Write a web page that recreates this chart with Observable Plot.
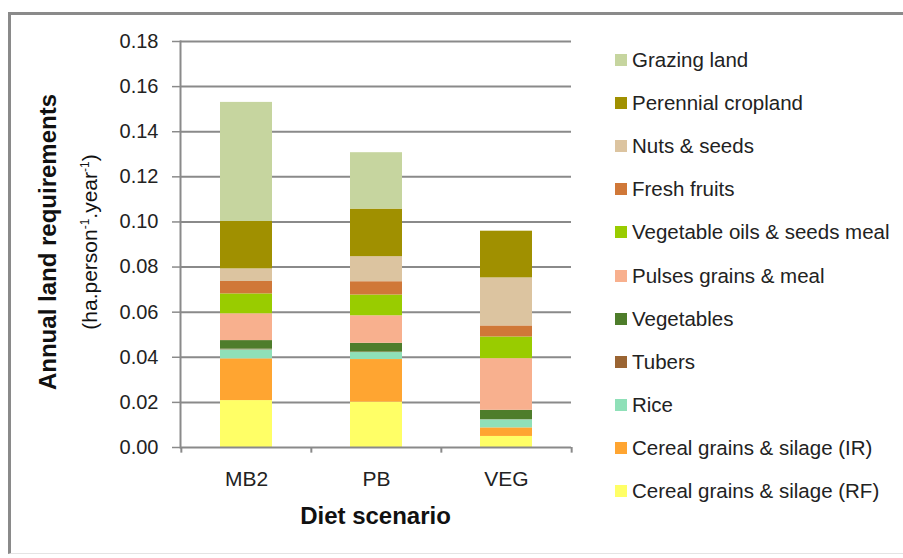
<!DOCTYPE html>
<html>
<head>
<meta charset="utf-8">
<script src="https://cdn.jsdelivr.net/npm/d3@7"></script>
<script src="https://cdn.jsdelivr.net/npm/@observablehq/plot@0.6"></script>
<style>
  body { margin: 0; background: #fff; font-family: "Liberation Sans", Arial, sans-serif; }
  #wrap { position: relative; width: 903px; height: 558px; overflow: hidden; }
  #frame { position: absolute; left: 8px; top: 12px; width: 905px; height: 542px; border-top: 3px solid #8a8a8a; border-left: 3px solid #8a8a8a; border-bottom: 1px solid #e4e4e4; box-sizing: border-box; }
  #chart { position: absolute; left: 0; top: 0; }
  .ytitle { position: absolute; transform-origin: center center; white-space: nowrap; color: #111; }
  #legend { position: absolute; left: 615px; top: 48px; }
  .li { position: absolute; left: 0; white-space: nowrap; font-size: 20.5px; color: #222; height: 24px; line-height: 24px; }
  .sw { position: absolute; left: 0; top: 6px; width: 12px; height: 12px; }
  .lt { position: absolute; left: 17px; top: 0; }
  #xtitle { position: absolute; left: 180px; width: 391px; text-align: center; top: 502px; font-size: 24px; font-weight: bold; color: #111; }
</style>
</head>
<body>
<div id="wrap">
  <div id="frame"></div>
  <div id="chart"></div>
  <div id="xtitle">Diet scenario</div>
  <div id="legend"></div>
</div>
<script>
// Scenarios (x categories)
const scenarios = ["MB2", "PB", "VEG"];
// Components, bottom to top of the stack
const components = [
  "Cereal grains & silage (RF)",
  "Cereal grains & silage (IR)",
  "Rice",
  "Tubers",
  "Vegetables",
  "Pulses grains & meal",
  "Vegetable oils & seeds meal",
  "Fresh fruits",
  "Nuts & seeds",
  "Perennial cropland",
  "Grazing land"
];
const colors = ["#ffff66", "#ffa531", "#8fe0b8", "#9a6432", "#4e7d2b", "#f8b08e", "#99cc00", "#d07838", "#dcc4a0", "#a09000", "#c6d59f"];
// Values in ha/person/year, per scenario [MB2, PB, VEG]
const cerealRF   = [0.0208, 0.0201, 0.0049];
const cerealIR   = [0.0185, 0.0189, 0.0038];
const rice       = [0.0040, 0.0031, 0.0036];
const tubers     = [0.0003, 0.0002, 0.0001];
const vegetables = [0.0038, 0.0039, 0.0041];
const pulses     = [0.0119, 0.0122, 0.0229];
const vegOils    = [0.0088, 0.0092, 0.0096];
const fruits     = [0.0055, 0.0059, 0.0049];
const nuts       = [0.0056, 0.0111, 0.0213];
const perennial  = [0.0210, 0.0211, 0.0207];
const grazing    = [0.0528, 0.0250, 0.0000];
const series = [cerealRF, cerealIR, rice, tubers, vegetables, pulses, vegOils, fruits, nuts, perennial, grazing];
const yTicks = [0, 0.02, 0.04, 0.06, 0.08, 0.10, 0.12, 0.14, 0.16, 0.18];

const data = [];
scenarios.forEach((s, i) => {
  components.forEach((c, j) => {
    data.push({scenario: s, component: c, value: series[j][i]});
  });
});

const step = (571 - 180) / 3;
const gray = "#8a8a8a";

const plot = Plot.plot({
  width: 903,
  height: 558,
  marginLeft: 180,
  marginRight: 332,
  marginTop: 41,
  marginBottom: 111,
  style: {fontFamily: "Liberation Sans, Arial, sans-serif", background: "transparent"},
  x: {domain: scenarios, paddingInner: 0.6, paddingOuter: 0.3, label: null},
  y: {domain: [0, 0.18], label: null},
  color: {domain: components, range: colors},
  marks: [
    Plot.gridY(yTicks.slice(1), {stroke: gray, strokeOpacity: 1, strokeWidth: 2}),
    Plot.axisY(yTicks, {tickSize: 8, tickPadding: 14, tickFormat: d3.format(".2f"), stroke: gray, strokeWidth: 1.5, fontSize: 20, fill: "#222", label: null}),
    Plot.axisX({tickSize: 0, tickPadding: 24, fontSize: 21, fill: "#222", label: null}),
    Plot.barY(data, {x: "scenario", y: "value", fill: "component", order: components}),
    Plot.ruleY([0], {stroke: gray, strokeWidth: 2}),
    Plot.frame({anchor: "left", stroke: gray, strokeWidth: 2}),
    Plot.ruleX(scenarios, {x: d => d, y1: 0, y2: -0.0025, dx: -step / 2, stroke: gray, strokeWidth: 2}),
    Plot.ruleX(scenarios.slice(-1), {x: d => d, y1: 0, y2: -0.0025, dx: step / 2, stroke: gray, strokeWidth: 2})
  ]
});
document.getElementById("chart").appendChild(plot);

// Y axis title (two lines, rotated)
function addYTitle(html, cx, cy, style) {
  const d = document.createElement("div");
  d.className = "ytitle";
  d.innerHTML = html;
  Object.assign(d.style, style);
  document.getElementById("wrap").appendChild(d);
  const w = d.offsetWidth, h = d.offsetHeight;
  d.style.left = (cx - w / 2) + "px";
  d.style.top = (cy - h / 2) + "px";
  d.style.transform = "rotate(-90deg)";
}
addYTitle("Annual land requirements", 48, 242, {fontSize: "24px", fontWeight: "bold"});
addYTitle("(ha.person<sup style='font-size:12px'>-1</sup>.year<sup style='font-size:12px'>-1</sup>)", 89, 242, {fontSize: "21px"});

// Legend (top to bottom = reverse stack order)
const legend = document.getElementById("legend");
components.slice().reverse().forEach((c, k) => {
  const col = colors[components.indexOf(c)];
  const li = document.createElement("div");
  li.className = "li";
  li.style.top = (k * 43.1) + "px";
  li.innerHTML = `<span class="sw" style="background:${col}"></span><span class="lt">${c}</span>`;
  legend.appendChild(li);
});
</script>
</body>
</html>
